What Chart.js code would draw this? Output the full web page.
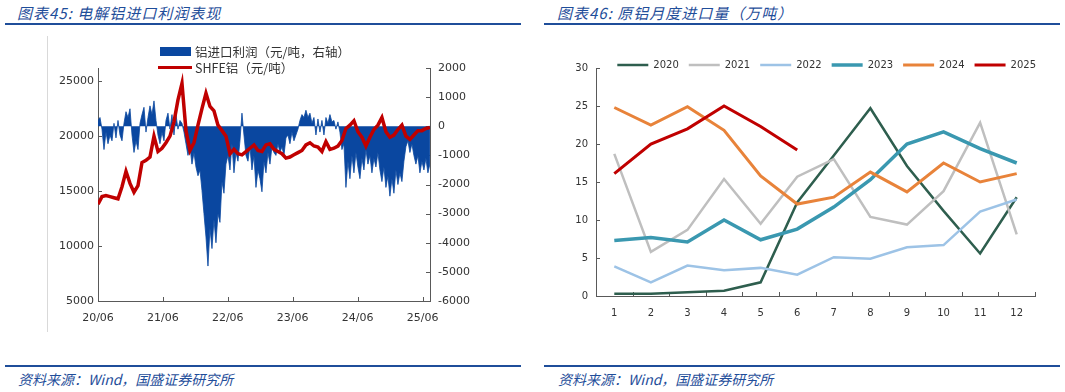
<!DOCTYPE html>
<html>
<head>
<meta charset="utf-8">
<script src="https://cdn.jsdelivr.net/npm/chart.js@4.4.1/dist/chart.umd.min.js"></script>
<style>
body{margin:0;background:#fff;width:1065px;height:392px;position:relative;overflow:hidden;font-family:"DejaVu Sans",sans-serif}
.title{position:absolute;top:2px;font:italic 15px "Noto Sans CJK SC";color:#1F4E9A;letter-spacing:1px;white-space:nowrap}
.rule{position:absolute;height:2px;background:#1F4E9A}
.src{position:absolute;top:369px;font:italic 14px "Noto Sans CJK SC";color:#1F4E9A;white-space:nowrap}
canvas{position:absolute}
.lg{position:absolute;font:12.5px "Noto Sans CJK SC";color:#333;display:flex;align-items:center;white-space:nowrap}
.frame{position:absolute;left:47px;top:36px;width:1px;height:296px;background:#d9d9d9}
</style>
</head>
<body>
<div class="title" style="left:17px">图表45:&nbsp;电解铝进口利润表现</div>
<div class="title" style="left:557px">图表46:&nbsp;原铝月度进口量（万吨）</div>
<div class="rule" style="left:5px;width:516px;top:23px"></div>
<div class="rule" style="left:544px;width:516px;top:23px"></div>
<div class="rule" style="left:5px;width:516px;top:365px"></div>
<div class="rule" style="left:544px;width:516px;top:365px"></div>
<div class="src" style="left:18px">资料来源：Wind，国盛证券研究所</div>
<div class="src" style="left:558px">资料来源：Wind，国盛证券研究所</div>
<div class="frame"></div>

<canvas id="left" width="472" height="300" style="left:48px;top:36px"></canvas>
<canvas id="right" width="500" height="296" style="left:555px;top:40px"></canvas>

<div class="lg" style="left:160px;top:42px"><span style="display:inline-block;width:31px;height:9px;background:#0A47A0;margin-right:4px"></span>铝进口利润（元/吨，右轴）</div>
<div class="lg" style="left:158px;top:58px"><span style="display:inline-block;width:34px;height:3.5px;background:#C00000;margin-right:3px"></span>SHFE铝（元/吨）</div>

<script>
// left chart: days since 2020-06-01
let xTickDays = [0, 365, 730, 1095, 1461, 1826];
let xTickLabels = ['20/06', '21/06', '22/06', '23/06', '24/06', '25/06'];
let priceTicks = [5000, 10000, 15000, 20000, 25000];

let priceStepDays = 22.5;
let shfePrice = [
  13800, 14500, 14600, 14500, 14400, 14300, 15400, 16800, 15700, 14900,
  15500, 17600, 17800, 18100, 20000, 18600, 18900, 19400, 20000, 21300,
  23300, 24800, 20500, 18700, 19400, 21000, 22500, 23900, 22700, 22300,
  21000, 20500, 20000, 18400, 18800, 18400, 18300, 18600, 18900, 19200,
  18700, 18600, 19200, 19300, 18800, 18600, 18400, 18000, 18100, 18300,
  18500, 18700, 19200, 19400, 19100, 19000, 18600, 19500, 18800, 18900,
  19100, 19600, 20700, 21000, 21400, 20400, 19900, 19100, 19900, 20600,
  21000, 21700, 20400, 19900, 20100, 20600, 21000, 20000, 19700, 20100,
  20500, 20500, 20700, 20800
];

let profitStepDays = 11.25;
let importProfit = [
  200, 300, -100, -800, -200, -600, -300, -500, 100, -400,
  200, -300, -500, 100, 500, 300, 600, -300, -900, -500,
  -800, 100, 400, 650, -200, 300, 700, 400, 870, 200,
  -300, -600, -200, -500, 200, 450, -100, 400, -300, 400,
  -100, 200, 100, -200, -600, -1000, -700, -1300, -900, -1400,
  -1700, -1500, -2200, -3000, -3800, -4800, -3500, -4200, -3200, -4000,
  -3000, -3300, -1900, -2300, -1300, -1000, -1500, -600, -1600, -900,
  -1200, -500, 450, -300, -1000, -1200, -700, -1500, -1000, -2100,
  -1500, -1800, -2250, -1200, -1600, -900, -1300, -700, -900, -1000,
  -600, -900, -700, -1000, -400, -300, -600, -200, -500, -300,
  -100, 200, 400, 300, 550, 300, 450, 100, 300, -300,
  250, -200, 200, -300, 300, 100, 400, 150, 200, -100,
  150, -200, -800, -600, -2100, -1200, -1800, -1000, -1600, -900,
  -1400, -1800, -1100, -1500, -800, -1300, -1000, -1600, -1100, -1400,
  -900, -1500, -1900, -1400, -2100, -1700, -2400, -1800, -2300, -1500,
  -2000, -1600, -1900, -1200, -700, -500, -900, -600, -1000, -1300,
  -1000, -1600, -1200, -1500, -1100, -1600, -1300
];

// right chart
let months = ['1', '2', '3', '4', '5', '6', '7', '8', '9', '10', '11', '12'];
let years = ['2020', '2021', '2022', '2023', '2024', '2025'];
let imp2020 = [0.3, 0.3, 0.5, 0.7, 1.8, 12.3, 18.5, 24.7, 17.1, 11.2, 5.6, 13.0];
let imp2021 = [18.7, 5.8, 8.7, 15.4, 9.5, 15.7, 18.0, 10.4, 9.4, 13.8, 22.8, 8.1];
let imp2022 = [3.9, 1.8, 4.0, 3.4, 3.7, 2.8, 5.1, 4.9, 6.4, 6.7, 11.1, 12.7];
let imp2023 = [7.3, 7.7, 7.1, 10.0, 7.4, 8.8, 11.7, 15.3, 20.0, 21.6, 19.4, 17.5];
let imp2024 = [24.8, 22.5, 24.9, 21.8, 15.8, 12.1, 13.0, 16.3, 13.7, 17.5, 15.0, 16.1];
let imp2025 = [16.1, 20.0, 22.0, 25.0, 22.3, 19.2];

let colors = ['#2E5E4E', '#BFBFBF', '#9DC3E6', '#3A98B0', '#E8833A', '#C00000'];
let widths = [2.5, 2.5, 2.5, 3.5, 3, 3];

let axisColor = '#595959';
let textColor = '#333';

// excel style tick marks pointing into the plot
let insideTicks = {
  id: 'insideTicks',
  beforeDatasetsDraw(chart, args, opts) {
    let ctx = chart.ctx;
    ctx.save();
    ctx.strokeStyle = opts.color;
    ctx.lineWidth = 1;
    Object.values(chart.scales).forEach(function (s) {
      let pos = [];
      if (s.type === 'category') {
        let n = s.ticks.length;
        for (let i = 0; i <= n; i++) pos.push(s.left + i * s.width / n);
      } else {
        s.ticks.forEach(function (t, i) { pos.push(s.getPixelForTick(i)); });
      }
      pos.forEach(function (p) {
        p = Math.round(p) + 0.5;
        ctx.beginPath();
        if (s.isHorizontal()) {
          ctx.moveTo(p, s.top); ctx.lineTo(p, s.top - opts.length);
        } else if (s.position === 'left') {
          ctx.moveTo(s.right, p); ctx.lineTo(s.right + opts.length, p);
        } else {
          ctx.moveTo(s.left, p); ctx.lineTo(s.left - opts.length, p);
        }
        ctx.stroke();
      });
    });
    ctx.restore();
  }
};

// legend sits over the top of the plot, shifted a little right
let legendFit = {
  id: 'legendFit',
  beforeInit(chart) {
    let fit = chart.legend.fit;
    chart.legend.fit = function () {
      fit.bind(chart.legend)();
      this.height = 18;
    };
  },
  afterLayout(chart) {
    chart.legend.left += 11;
    chart.legend.right += 11;
  }
};

let shfePts = shfePrice.map(function (v, i) { return {x: i * priceStepDays, y: v}; });
let profitPts = importProfit.map(function (v, i) { return {x: i * profitStepDays, y: v}; });

let leftFont = {family: 'DejaVu Sans', size: 11};
let plain = function (v) { return String(v); };

new Chart(document.getElementById('left'), {
  type: 'line',
  data: {
    datasets: [{
      label: 'SHFE铝（元/吨）',
      data: shfePts,
      yAxisID: 'y',
      borderColor: '#C00000',
      borderWidth: 3.5,
      pointRadius: 0,
      tension: 0
    }, {
      label: '铝进口利润（元/吨，右轴）',
      data: profitPts,
      yAxisID: 'y1',
      borderColor: '#0A47A0',
      backgroundColor: '#0A47A0',
      borderWidth: 0.8,
      fill: 'origin',
      pointRadius: 0,
      tension: 0
    }]
  },
  options: {
    responsive: false,
    animation: false,
    layout: {padding: {top: 32}},
    plugins: {
      legend: {display: false},
      tooltip: {enabled: false},
      insideTicks: {length: 4, color: axisColor}
    },
    scales: {
      x: {
        type: 'linear',
        min: 0,
        max: 1868,
        afterBuildTicks: function (s) { s.ticks = xTickDays.map(function (v) { return {value: v}; }); },
        afterFit: function (s) { s.height = 35; },
        ticks: {
          callback: function (v) { return xTickLabels[xTickDays.indexOf(v)]; },
          font: leftFont, color: textColor, padding: 11, maxRotation: 0, autoSkip: false
        },
        grid: {display: false, drawTicks: false},
        border: {color: axisColor}
      },
      y: {
        position: 'left',
        min: 5000,
        max: 26200,
        afterBuildTicks: function (s) { s.ticks = priceTicks.map(function (v) { return {value: v}; }); },
        afterFit: function (s) { s.width = 50; },
        ticks: {callback: plain, font: leftFont, color: textColor, padding: 4},
        grid: {display: false, drawTicks: false},
        border: {color: axisColor}
      },
      y1: {
        position: 'right',
        min: -6000,
        max: 2000,
        afterFit: function (s) { s.width = 90; },
        ticks: {stepSize: 1000, callback: plain, font: leftFont, color: textColor, padding: 8},
        grid: {display: false, drawTicks: false},
        border: {color: axisColor}
      }
    }
  },
  plugins: [insideTicks]
});

let series = [imp2020, imp2021, imp2022, imp2023, imp2024, imp2025];
let rightFont = {family: 'DejaVu Sans', size: 10};

new Chart(document.getElementById('right'), {
  type: 'line',
  data: {
    labels: months,
    datasets: series.map(function (d, i) {
      return {
        label: years[i],
        data: d,
        borderColor: colors[i],
        backgroundColor: colors[i],
        borderWidth: widths[i],
        pointRadius: 0,
        tension: 0,
        order: 5 - i
      };
    })
  },
  options: {
    responsive: false,
    animation: false,
    layout: {padding: {top: 10, right: 20}},
    plugins: {
      legend: {
        position: 'top',
        align: 'end',
        labels: {
          usePointStyle: true,
          pointStyle: 'line',
          pointStyleWidth: 31,
          font: rightFont,
          color: textColor,
          padding: 10,
          sort: function (a, b) { return a.datasetIndex - b.datasetIndex; }
        }
      },
      tooltip: {enabled: false},
      insideTicks: {length: 4, color: axisColor}
    },
    scales: {
      x: {
        offset: true,
        afterFit: function (s) { s.height = 40; },
        ticks: {font: rightFont, color: textColor, padding: 11, maxRotation: 0},
        grid: {display: false, drawTicks: false, offset: true},
        border: {color: axisColor}
      },
      y: {
        min: 0,
        max: 30,
        afterFit: function (s) { s.width = 41; },
        ticks: {stepSize: 5, font: rightFont, color: textColor, padding: 8},
        grid: {display: false, drawTicks: false},
        border: {color: axisColor}
      }
    }
  },
  plugins: [insideTicks, legendFit]
});
</script>
</body>
</html>
